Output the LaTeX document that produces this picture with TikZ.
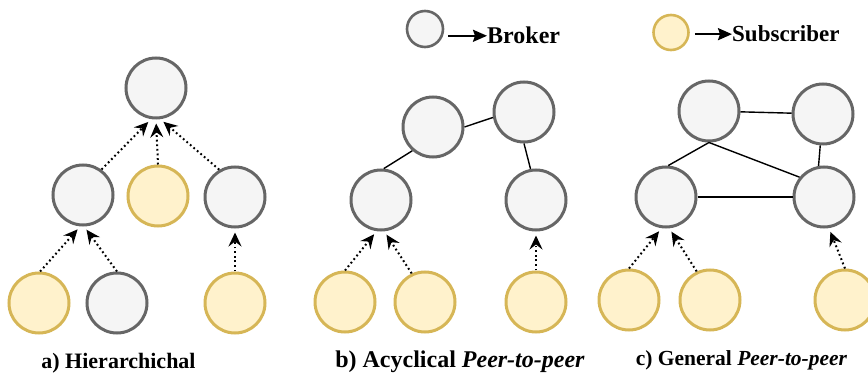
\documentclass[tikz,border=0pt]{standalone}
\usepackage{fontspec}
\setmainfont{Liberation Serif}
\usetikzlibrary{arrows.meta}

\definecolor{brokerline}{HTML}{666666}
\definecolor{brokerfill}{HTML}{F5F5F5}
\definecolor{subline}{HTML}{D6B656}
\definecolor{subfill}{HTML}{FFF2CC}

\tikzset{
  broker/.style={circle, draw=brokerline, fill=brokerfill, line width=3pt,
                 minimum size=60pt, inner sep=0pt},
  subscriber/.style={broker, draw=subline, fill=subfill},
  legendbroker/.style={broker, minimum size=36pt, line width=2.6pt},
  legendsub/.style={subscriber, minimum size=35pt, line width=2.6pt},
  link/.style={line width=1.4pt},
  publish/.style={line width=2pt, dash pattern=on 1.8pt off 2.8pt,
                  -{Stealth[length=14pt,width=13pt,inset=5pt]}, shorten >=4pt},
  legendarrow/.style={line width=2.2pt, -{Stealth[length=14pt,width=12pt,inset=2pt]}},
  caption/.style={inner sep=0pt, anchor=base},
  legendtext/.style={inner sep=0pt, anchor=base west,
                     font=\bfseries\fontsize{24}{24}\selectfont},
}

\begin{document}
\begin{tikzpicture}[x=1pt, y=-1pt]
  \useasboundingbox (0,0) rectangle (868,374);
  \clip (0,0) rectangle (868,374);

  % legend
  \node[legendbroker] (legBroker) at (425,29) {};
  \node[legendtext] (legBrokerText) at (487,44) {Broker};
  \draw[legendarrow, shorten <=4pt] (legBroker.east |- legBrokerText.west) -- (legBrokerText.west);

  \node[legendsub] (legSub) at (671,32.5) {};
  \node[legendtext, font=\bfseries\fontsize{23}{23}\selectfont] (legSubText) at (732,42) {Subscriber};
  \draw[legendarrow, shorten <=5pt] (legSub.east |- legSubText.west) -- (legSubText.west);

  % a) hierarchical topology
  \node[broker]     (aTop)  at (156,88)  {};
  \node[broker]     (aMidL) at (83,195)  {};
  \node[subscriber] (aMidS) at (158,196) {};
  \node[broker]     (aMidR) at (235,197) {};
  \node[subscriber] (aLowL) at (39,303)  {};
  \node[broker]     (aLowB) at (117,303) {};
  \node[subscriber] (aLowR) at (235,303) {};

  \draw[publish] (aMidL.54)    -- (aTop.261);
  \draw[publish] (aMidS.north) -- (aTop.270);
  \draw[publish] (aMidR.120)   -- (aTop.278);
  \draw[publish] (aLowL.88)    -- (aMidL.265);
  \draw[publish] (aLowB.north) -- (aMidL.272);
  \draw[publish] (aLowR.north) -- (aMidR.south);

  \node[caption, font=\bfseries\fontsize{22}{22}\selectfont] (capA) at (118.5,368) {a) Hierarchichal};

  % b) acyclic peer-to-peer topology
  \node[broker]     (bTopL) at (433,127) {};
  \node[broker]     (bTopR) at (524,112) {};
  \node[broker]     (bMidL) at (381,200) {};
  \node[broker]     (bMidR) at (536,200) {};
  \node[subscriber] (bLow1) at (345,302) {};
  \node[subscriber] (bLow2) at (425,302) {};
  \node[subscriber] (bLow3) at (536,302) {};

  \draw[link] (bTopL.0)     -- (bTopR.190);
  \draw[link] (bMidL.85)    -- (bTopL.229);
  \draw[link] (bTopR.south) -- (bMidR.100);

  \draw[publish] (bLow1.north) -- (bMidL.262);
  \draw[publish] (bLow2.115)   -- (bMidL.276);
  \draw[publish] (bLow3.north) -- (bMidR.south);

  \node[caption, font=\bfseries\fontsize{24}{24}\selectfont] (capB) at (460,367.5) {b) Acyclical \textit{Peer-to-peer}};

  % c) general peer-to-peer topology
  \node[broker]     (cTopL) at (709,111) {};
  \node[broker]     (cTopR) at (823,114) {};
  \node[broker]     (cMidL) at (666,197) {};
  \node[broker]     (cMidR) at (824,197) {};
  \node[subscriber] (cLow1) at (629,300) {};
  \node[subscriber] (cLow2) at (710,300) {};
  \node[subscriber] (cLow3) at (845,300) {};

  \draw[link] (cTopL)       -- (cTopR);
  \draw[link] (cTopL.south) -- (cMidL.86);
  \draw[link] (cTopL.south) -- (cMidR.141);
  \draw[link] (cTopR.265)   -- (cMidR.100);
  \draw[link] (cMidL)       -- (cMidR);

  \draw[publish] (cLow1.north) -- (cMidL.262);
  \draw[publish] (cLow2.115)   -- (cMidL.276);
  \draw[publish] (cLow3.north) -- (cMidR.279);

  \node[caption, font=\bfseries\fontsize{21.5}{22}\selectfont] (capC) at (741.5,365) {c) General \textit{Peer-to-peer}};
\end{tikzpicture}
\end{document}
